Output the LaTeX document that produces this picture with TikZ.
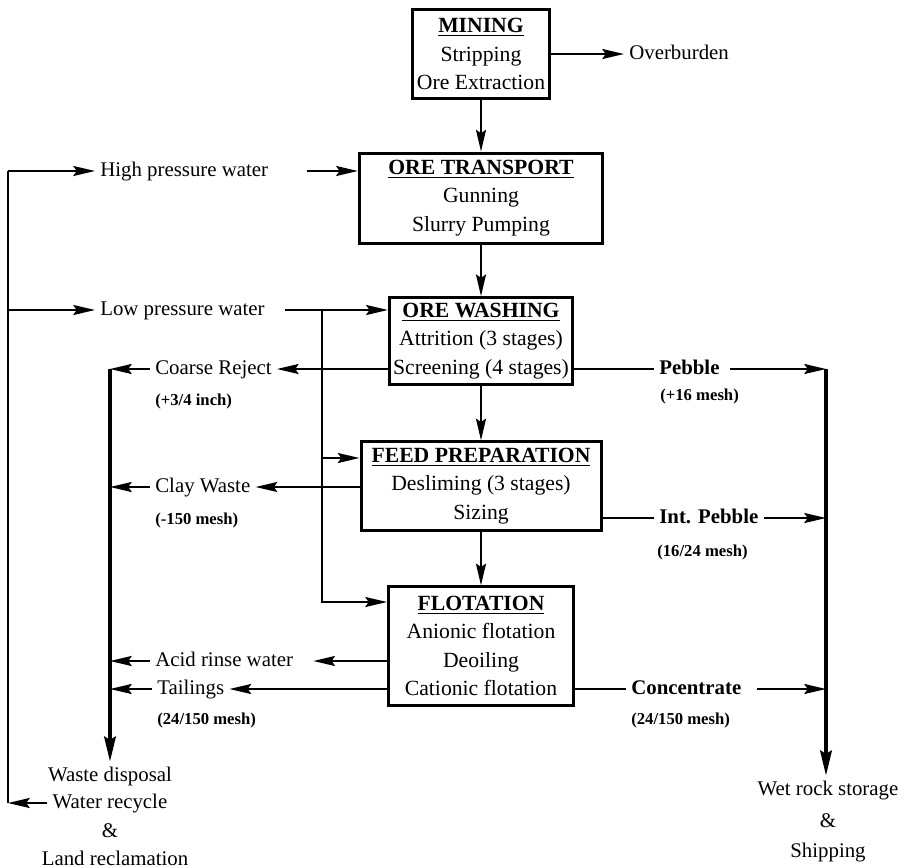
\documentclass[tikz,border=0pt]{standalone}
\usepackage{fontspec}
\setmainfont{Liberation Serif}
\usetikzlibrary{arrows.meta}
\tikzstyle{process} = [rectangle, draw=black, line width=1.8pt, align=center, inner sep=1pt, font=\fontsize{13}{17}\selectfont]
\tikzstyle{stream} = [inner sep=3pt, text height=8.5pt, text depth=2.5pt, font=\fontsize{12.5}{14}\selectfont]
\tikzstyle{product} = [stream, font=\fontsize{12.5}{14}\selectfont\bfseries]
\tikzstyle{sieve} = [inner sep=3pt, text height=7pt, text depth=2pt, font=\fontsize{10}{12}\selectfont\bfseries]
\tikzstyle{arrow} = [line width=1.2pt, -{Stealth[length=13pt, width=6pt, inset=2pt]}]
\tikzstyle{flow} = [line width=1.2pt]
\tikzstyle{collector} = [line width=2pt, -{Stealth[length=15pt, width=7pt, inset=2pt]}]
\newcommand{\boxtitle}[1]{\underline{\textbf{#1}}}

\begin{document}
\begin{tikzpicture}[x=0.6pt, y=-0.6pt]
        \useasboundingbox (0,0) rectangle (905,868);
        % process boxes
        \node (mining) [process, minimum width=82pt, minimum height=53pt] at (481,54) {\boxtitle{MINING}\\Stripping\\Ore Extraction};
        \node (transport) [process, minimum width=146pt, minimum height=54pt] at (481,198) {\boxtitle{ORE TRANSPORT}\\Gunning\\Slurry Pumping};
        \node (washing) [process, minimum width=110pt, minimum height=52pt] at (481,341) {\boxtitle{ORE WASHING}\\Attrition (3 stages)\\Screening (4 stages)};
        \node (feed) [process, minimum width=144pt, minimum height=53pt] at (481,486) {\boxtitle{FEED PREPARATION}\\Desliming (3 stages)\\Sizing};
        \node (flot) [process, minimum width=111pt, minimum height=71pt] at (481,646) {\boxtitle{FLOTATION}\\Anionic flotation\\Deoiling\\Cationic flotation};

        % streams
        \node (overburden) [stream, anchor=west] at (624,54) {Overburden};
        \node (hpw) [stream, anchor=west] at (95,171) {High pressure water};
        \node (lpw) [stream, anchor=west] at (95,310) {Low pressure water};
        \node (coarse) [stream, anchor=west] at (150,369) {Coarse Reject};
        \node (coarsesz) [sieve, anchor=west] at (150,401) {(+3/4 inch)};
        \node (clay) [stream, anchor=west] at (150,487) {Clay Waste};
        \node (claysz) [sieve, anchor=west] at (150,520) {(-150 mesh)};
        \node (acid) [stream, anchor=west] at (150,661) {Acid rinse water};
        \node (tail) [stream, anchor=west] at (152,689) {Tailings};
        \node (tailsz) [sieve, anchor=west] at (152,720) {(24/150 mesh)};
        \node (pebble) [product, anchor=west] at (654,369) {Pebble};
        \node (pebblesz) [sieve, anchor=west] at (655,396) {(+16 mesh)};
        \node (ipebble) [product, anchor=west] at (654,518) {Int. Pebble};
        \node (ipebblesz) [sieve, anchor=west] at (652,552) {(16/24 mesh)};
        \node (conc) [product, anchor=west] at (626,689) {Concentrate};
        \node (concsz) [sieve, anchor=west] at (626,720) {(24/150 mesh)};

        % end points
        \node (disp) [stream] at (110,776) {Waste disposal};
        \node (recyc) [stream] at (110,803) {Water recycle};
        \node (amp1) [stream] at (110,832) {\&};
        \node (land) [stream] at (115,860) {Land reclamation};
        \node (wet) [stream] at (828,790) {Wet rock storage};
        \node (amp2) [stream] at (828,822) {\&};
        \node (ship) [stream] at (828,852) {Shipping};

        \coordinate (lcorner) at (110,369);
        \coordinate (rcorner) at (826,369);
        \coordinate (split) at (322,310);
        \coordinate (rloop) at (8,803);

        % main line
        \draw [arrow] (mining.east) -- (overburden.west);
        \draw [arrow] (mining) -- (transport);
        \draw [arrow] (transport) -- (washing);
        \draw [arrow] (washing) -- (feed);
        \draw [arrow] (feed) -- (flot);

        % water supply
        \draw [arrow] (recyc.west) -- (rloop);
        \draw [flow] (rloop) -- (rloop |- hpw.west);
        \draw [arrow] (rloop |- hpw.west) -- (hpw.west);
        \draw [arrow] (rloop |- lpw.west) -- (lpw.west);
        \draw [arrow] ([xshift=20pt]hpw.east) -- (transport.west |- hpw.east);
        \draw [arrow] ([xshift=9pt]lpw.east) -- (washing.west |- lpw.east);
        \draw [arrow] (split) |- ([yshift=16.8pt]feed.west);
        \draw [arrow] (split) |- ([yshift=26.4pt]flot.west);

        % wastes
        \draw [arrow] (washing.west |- coarse.east) -- (coarse.east);
        \draw [arrow] (feed.west |- clay.east) -- (clay.east);
        \draw [arrow] (flot.west |- acid.east) -- ([xshift=9pt]acid.east);
        \draw [arrow] (flot.west |- tail.east) -- (tail.east);
        \draw [arrow] (coarse.west) -- (lcorner);
        \draw [arrow] (clay.west) -- (lcorner |- clay.west);
        \draw [arrow] (acid.west) -- (lcorner |- acid.west);
        \draw [arrow] (tail.west) -- (lcorner |- tail.west);
        \draw [collector] (lcorner) -- (lcorner |- disp.north);

        % products
        \draw [flow] (washing.east |- pebble.west) -- (pebble.west);
        \draw [flow] (feed.east |- ipebble.west) -- (ipebble.west);
        \draw [flow] (flot.east |- conc.west) -- (conc.west);
        \draw [arrow] ([xshift=3pt]pebble.east) -- (rcorner |- pebble.east);
        \draw [arrow] (ipebble.east) -- (rcorner |- ipebble.east);
        \draw [arrow] ([xshift=6pt]conc.east) -- (rcorner |- conc.east);
        \draw [collector] (rcorner) -- (rcorner |- wet.north);
\end{tikzpicture}
\end{document}
